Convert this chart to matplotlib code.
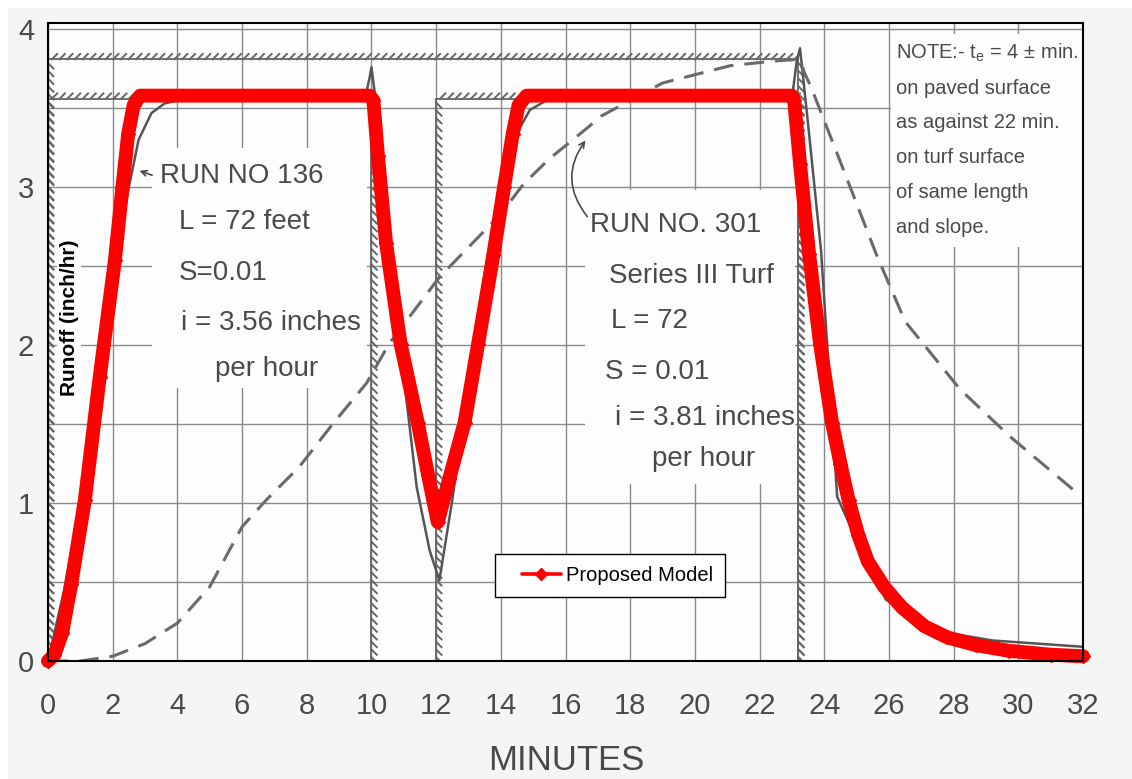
import matplotlib
matplotlib.use("Agg")
import matplotlib.pyplot as plt
from matplotlib import patheffects
from matplotlib.patches import Rectangle
from matplotlib.legend_handler import HandlerLine2D

# ---------------------------------------------------------------------------
# Data (time in minutes, runoff / rainfall in inch/hr)
# ---------------------------------------------------------------------------
# Proposed model hydrograph
model_t = [0, 0.2, 0.44, 0.72, 1.14, 1.6, 2.07, 2.3, 2.48, 2.65, 2.85,
           9.95, 10.06, 10.2, 10.45, 10.9, 11.43, 11.75, 12.05, 12.4,
           12.88, 13.3, 13.77, 14.1, 14.37, 14.55, 14.8,
           23.0, 23.07, 23.25, 23.53, 23.87, 24.24, 24.5, 24.75, 25.05,
           25.35, 25.85, 26.4, 27.1, 27.8, 28.7, 29.7, 31.0, 32]
model_q = [0, 0.04, 0.18, 0.49, 1.02, 1.8, 2.54, 3.0, 3.34, 3.52, 3.58,
           3.58, 3.55, 3.2, 2.65, 2.01, 1.51, 1.18, 0.88, 1.15,
           1.51, 2.01, 2.57, 3.0, 3.34, 3.52, 3.58,
           3.58, 3.55, 3.15, 2.58, 2.01, 1.51, 1.25, 1.02, 0.8,
           0.63, 0.47, 0.34, 0.22, 0.15, 0.10, 0.065, 0.04, 0.03]

# Run No 136 (paved surface), observed runoff
run136_t = [0, 0.5, 1.0, 1.5, 2.0, 2.5, 2.8, 3.2, 3.6, 4.2, 9.8, 9.95,
            10.0, 10.1, 10.3, 10.6, 11.0, 11.4, 11.8, 12.1, 12.5, 12.9,
            13.3, 13.7, 14.1, 14.6, 14.9, 15.5, 23.0, 23.15, 23.25, 23.5,
            23.9, 24.4, 25.1, 25.9, 27.2, 29.2, 32]
run136_q = [0, 0.45, 1.0, 1.7, 2.4, 3.0, 3.3, 3.47, 3.53, 3.56, 3.56, 3.7,
            3.76, 3.6, 3.0, 2.45, 1.8, 1.1, 0.7, 0.51, 1.02, 1.6,
            2.2, 2.7, 3.1, 3.38, 3.49, 3.56, 3.56, 3.8, 3.88, 3.4,
            2.6, 1.04, 0.72, 0.39, 0.2, 0.13, 0.09]

# Run No. 301 (Series III turf), observed runoff
run301_t = [0, 1, 2, 3, 4, 5, 6, 6.75, 7.77, 8.8, 9.85, 10.55, 12.1, 13,
            14, 14.7, 15.5, 16.7, 17.1, 19, 21.1, 22.5, 23.2, 23.6, 24.5,
            25.6, 26.5, 28.2, 29.75, 31.9]
run301_q = [0, 0.0, 0.03, 0.11, 0.24, 0.47, 0.85, 1.02, 1.23, 1.5, 1.76,
            2.01, 2.43, 2.62, 2.83, 3.02, 3.18, 3.38, 3.45, 3.66, 3.77,
            3.80, 3.81, 3.63, 3.16, 2.58, 2.15, 1.72, 1.42, 1.05]

# Rainfall intensities and the periods over which they were applied
rain136_i = 3.56
rain136_windows = [(0, 10), (12, 23.2)]
rain301_i = 3.81
rain301_windows = [(0, 23.2)]

x_ticks = list(range(0, 33, 2))
y_ticks = [0, 1, 2, 3, 4]
x_grid = list(range(0, 33, 2))
y_grid = [0.5 * k for k in range(1, 9)]

# ---------------------------------------------------------------------------
W, H, DPI = 1132, 779, 100
fig = plt.figure(figsize=(W / DPI, H / DPI), dpi=DPI, facecolor="white")
fig.patches.append(Rectangle((8 / W, 0), 1, 1 - 8 / H, transform=fig.transFigure,
                             facecolor="#f5f5f5", edgecolor="none", zorder=-10))

ax = fig.add_axes([48 / W, (H - 661) / H, (1083 - 48) / W, (661 - 23) / H])
ax.set_facecolor("#fdfdfd")
ax.set_xlim(0, 32)
ax.set_ylim(0, 4.04)

scan_font = ["Liberation Sans Narrow", "Liberation Sans", "DejaVu Sans"]
ink = "#4a4a4a"

# graph-paper grid
for gx in x_grid:
    ax.axvline(gx, color="#8a8a8a", lw=1.0, zorder=0.5)
for gy in y_grid:
    ax.axhline(gy, color="#8a8a8a", lw=1.0, zorder=0.5)

# blank areas behind the lettering
for (x0, x1, y0, y1) in [(3.2, 9.85, 1.73, 3.25),
                         (16.6, 23.1, 1.12, 2.98),
                         (26.05, 32.0, 2.62, 3.97)]:
    ax.add_patch(Rectangle((x0, y0), x1 - x0, y1 - y0, facecolor="#fdfdfd",
                           edgecolor="none", zorder=1))

# rainfall hyetographs drawn as hatched lines
hatch = [patheffects.withTickedStroke(spacing=5.5, angle=45, length=1.0,
                                      linewidth=1.4)]


def hyetograph(windows, intensity):
    for (a, b) in windows:
        for xs, ys in (([a, b], [intensity, intensity]),
                       ([a, a], [intensity, 0]),
                       ([b, b], [intensity, 0])):
            ax.plot(xs, ys, color="#666666", lw=1.3, path_effects=hatch,
                    zorder=2)


hyetograph(rain301_windows, rain301_i)
hyetograph(rain136_windows, rain136_i)

# observed hydrographs
ax.plot(run136_t, run136_q, color="#555555", lw=1.8, zorder=3)
ax.plot(run301_t, run301_q, color="#6a6a6a", lw=2.2, dashes=(6.5, 3.6), zorder=3)

# proposed model
model_line, = ax.plot(model_t, model_q, color="#ff0000", lw=10, marker="D",
                      ms=7, solid_joinstyle="round", solid_capstyle="round",
                      clip_on=False, zorder=10, label="Proposed Model")

# ticks and labels
ax.set_xticks(x_ticks)
ax.set_xticklabels([str(v) for v in x_ticks])
ax.set_yticks(y_ticks)
ax.set_yticklabels([str(v) for v in y_ticks])
ax.tick_params(axis="x", length=0, pad=22, labelsize=21, labelcolor=ink)
ax.tick_params(axis="y", length=0, pad=10, labelsize=21, labelcolor=ink)
for lab in ax.get_xticklabels() + ax.get_yticklabels():
    lab.set_family(scan_font)
for sp in ax.spines.values():
    sp.set_color("black")
    sp.set_linewidth(1.5)
    sp.set_zorder(12)

fig.text(566 / W, 1 - 760 / H, "MINUTES", ha="center", va="center",
         fontsize=25, color=ink, family=scan_font)

ax.text(0.0205, 0.538, "Runoff (inch/hr)", transform=ax.transAxes, rotation=90,
        ha="center", va="center", fontsize=15, fontweight="bold",
        family=["Liberation Sans", "DejaVu Sans"], zorder=11,
        bbox=dict(facecolor="white", edgecolor="none", pad=2))


# annotation lettering
def note(x, y, s, size=20, ha="center"):
    ax.text(x, y, s, ha=ha, va="center", fontsize=size, color=ink,
            family=scan_font, zorder=4)


note(6.0, 3.07, "RUN NO 136")
note(6.06, 2.78, "L = 72 feet")
note(5.41, 2.46, "S=0.01")
note(6.9, 2.14, "i = 3.56 inches")
note(6.77, 1.85, "per hour")
ax.annotate("", xy=(2.75, 3.11), xytext=(3.3, 3.07),
            arrowprops=dict(arrowstyle="->", color=ink, lw=1.2), zorder=4)

note(19.4, 2.76, "RUN NO. 301")
note(19.9, 2.44, "Series III Turf")
note(18.6, 2.15, "L = 72")
note(18.83, 1.83, "S = 0.01")
note(20.3, 1.54, "i = 3.81 inches")
note(20.26, 1.28, "per hour")
ax.annotate("", xy=(16.67, 3.31), xytext=(16.73, 2.80),
            arrowprops=dict(arrowstyle="->", color=ink, lw=1.2,
                            connectionstyle="arc3,rad=-0.4"), zorder=4)

note_lines = ["NOTE:- t$_{\\mathregular{e}}$ = 4 ± min.", "on paved surface",
              "as against 22 min.", "on turf surface", "of same length",
              "and slope."]
for k, s in enumerate(note_lines):
    y_px = 53 + 34.8 * k
    note(26.22, (661 - y_px) / 158.0, s, size=14.5, ha="left")


# legend with a slim line sample, set in from the frame edge
def slim(handle, orig):
    handle.update_from(orig)
    handle.set_linewidth(2.6)
    handle.set_markersize(6.5)


leg = ax.legend(handles=[model_line], loc="upper left",
                bbox_to_anchor=(0.432, 0.168), borderaxespad=0,
                handler_map={model_line: HandlerLine2D(update_func=slim,
                                                       xpad=0.75)},
                prop={"family": ["Liberation Sans", "DejaVu Sans"], "size": 14.5},
                frameon=True, fancybox=False, framealpha=1, edgecolor="black",
                borderpad=0.6, handlelength=2.65, handletextpad=0.25)
leg.get_frame().set_linewidth(1.0)
leg.set_zorder(20)

fig.savefig("out.png", dpi=DPI, facecolor=fig.get_facecolor())
